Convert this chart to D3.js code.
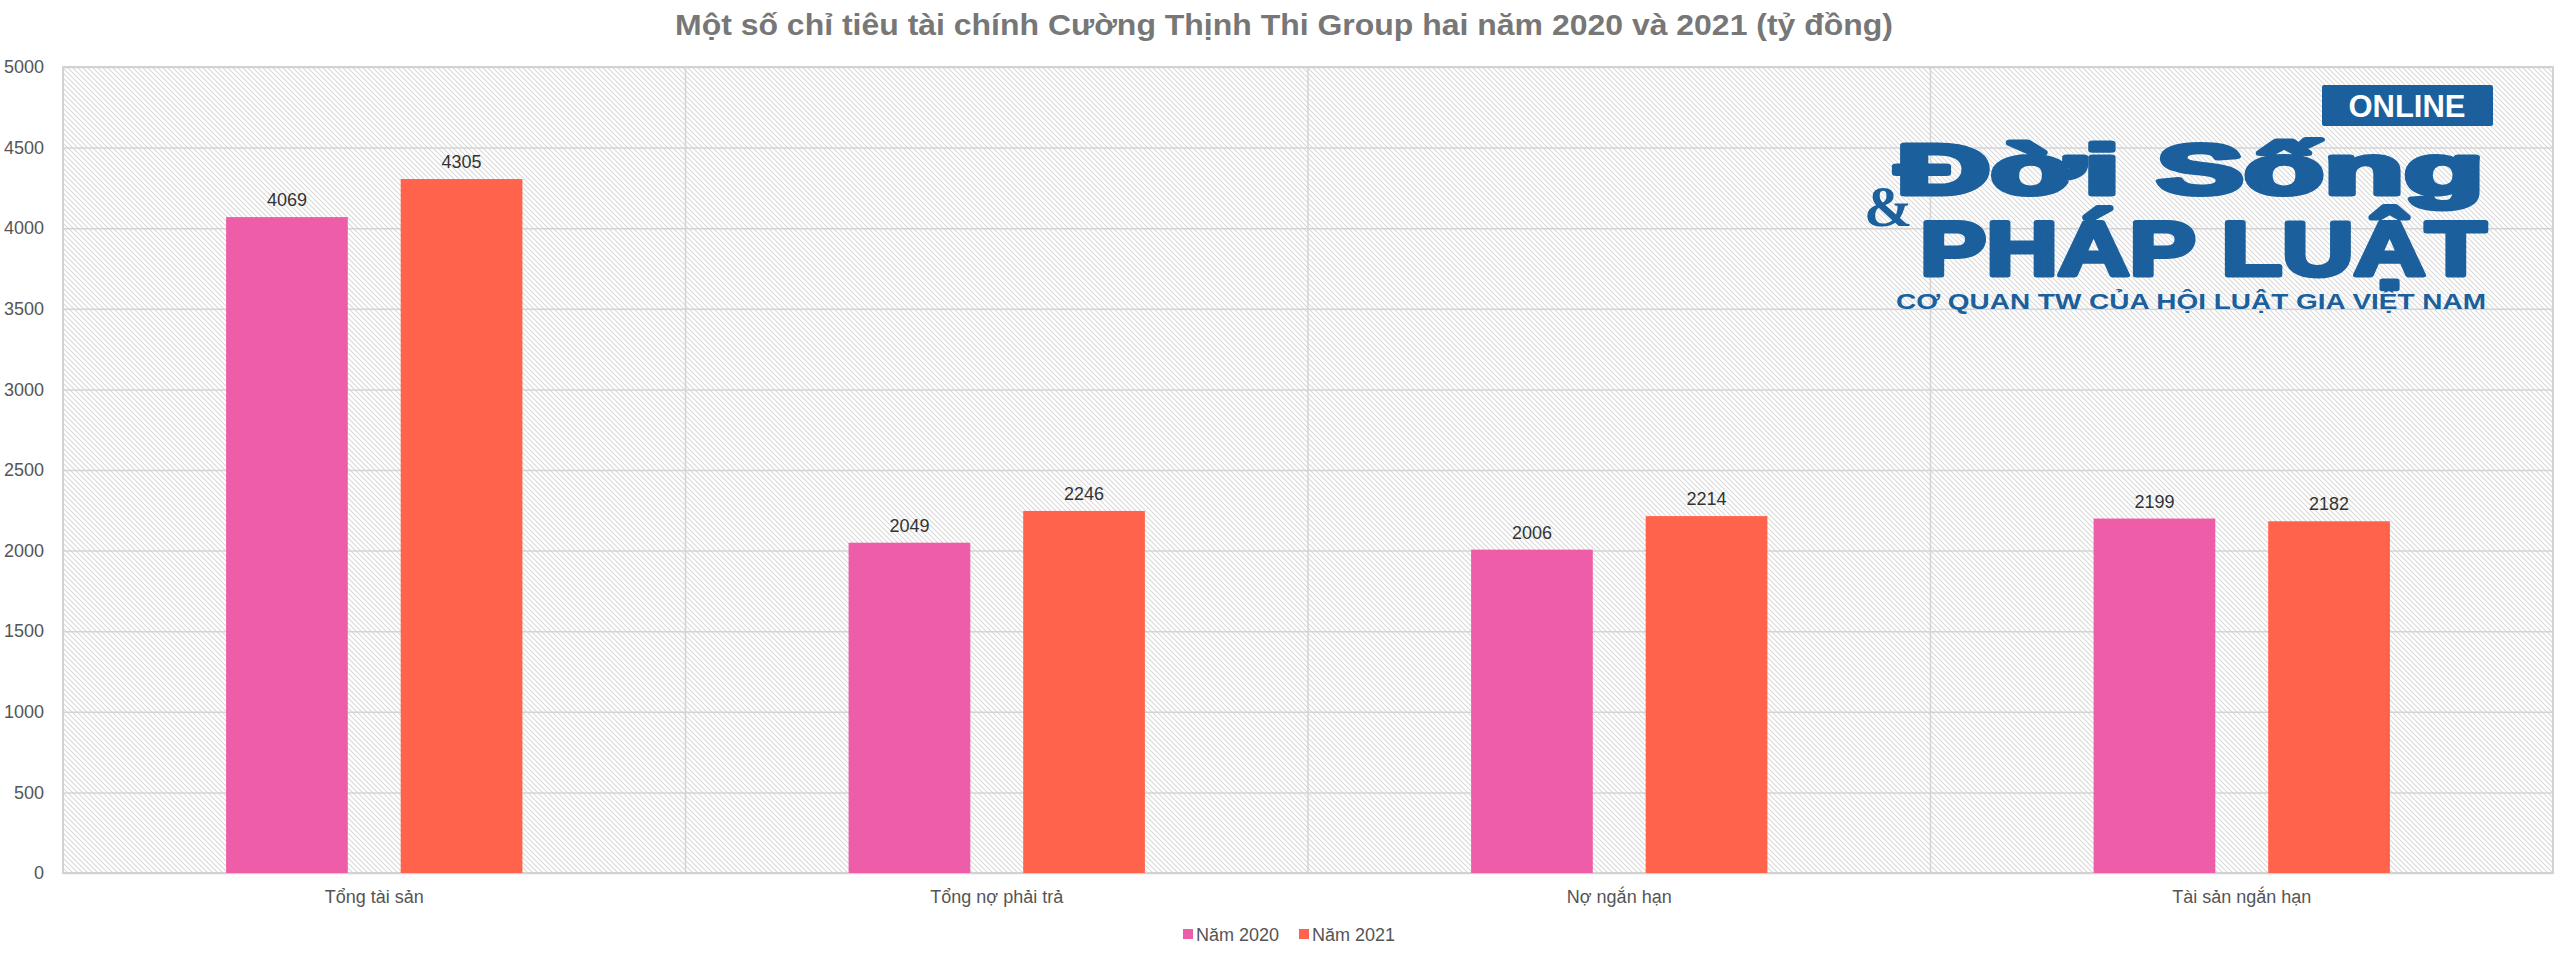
<!doctype html>
<html lang="vi">
<head>
<meta charset="UTF-8">
<title>Cuong Thinh Thi</title>
<style>
  body { margin: 0; background: #fff; }
  #chart text { font-family: "Liberation Sans", Arial, sans-serif; }
</style>
</head>
<body>
<svg id="chart" width="2564" height="954"></svg>
<script src="https://cdn.jsdelivr.net/npm/d3@7"></script>
<script>
var categories = ['Tổng tài sản', 'Tổng nợ phải trả', 'Nợ ngắn hạn', 'Tài sản ngắn hạn']
var seriesNames = ['Năm 2020', 'Năm 2021']
var values2020 = [4069, 2049, 2006, 2199]
var values2021 = [4305, 2246, 2214, 2182]
var yTicks = [0, 500, 1000, 1500, 2000, 2500, 3000, 3500, 4000, 4500, 5000]
var colors = ['#ee5ea8', '#ff634b']

var svg = d3.select('#chart')
var plotL = 63, plotR = 2553, plotT = 67, plotB = 873

var x0 = d3.scaleBand().domain(categories).range([plotL, plotR])
var bw = x0.bandwidth()
var x1 = d3.scaleBand().domain(seriesNames)
    .range([bw * 0.262, bw * 0.738]).paddingInner(0.303)
var y = d3.scaleLinear().domain([0, 5000]).range([plotB, plotT])

// hatch background
var pat = svg.append('defs').append('pattern')
    .attr('id', 'hatch').attr('patternUnits', 'userSpaceOnUse')
    .attr('width', 5).attr('height', 5)
pat.append('path').attr('d', 'M-1,-1 L6,6 M-1,4 L1,6 M4,-1 L6,1')
    .attr('stroke', '#d9d9d9').attr('stroke-width', 1.1)
svg.append('rect').attr('x', plotL).attr('y', plotT)
    .attr('width', plotR - plotL).attr('height', plotB - plotT)
    .attr('fill', 'url(#hatch)')

// horizontal grid
svg.append('g').attr('transform', 'translate(' + plotL + ',0)')
    .call(d3.axisLeft(y).tickValues(yTicks).tickSize(-(plotR - plotL)).tickFormat(''))
    .call(function(g) {
        g.select('.domain').remove()
        g.selectAll('line').attr('stroke', '#d4d4d4').attr('stroke-width', 1.5)
    })

// vertical category dividers
svg.append('g').selectAll('line')
    .data(categories.slice(1))
    .join('line')
    .attr('x1', function(d) { return x0(d) }).attr('x2', function(d) { return x0(d) })
    .attr('y1', plotT).attr('y2', plotB)
    .attr('stroke', '#d4d4d4').attr('stroke-width', 1.5)

// frame
svg.append('rect').attr('x', plotL).attr('y', plotT)
    .attr('width', plotR - plotL).attr('height', plotB - plotT)
    .attr('fill', 'none').attr('stroke', '#d2d2d2').attr('stroke-width', 2)

// y labels
svg.append('g').attr('transform', 'translate(' + (plotL - 16) + ',0)')
    .call(d3.axisLeft(y).tickValues(yTicks).tickSize(0).tickFormat(d3.format('d')))
    .call(function(g) {
        g.select('.domain').remove()
        g.selectAll('text').attr('font-size', 18).attr('fill', '#555')
            .style('font-family', '"Liberation Sans", Arial, sans-serif')
    })

// logo watermark
var logo = svg.append('g').attr('fill', '#1b5f9c')
logo.append('rect').attr('x', 2322).attr('y', 85).attr('width', 171).attr('height', 41).attr('rx', 2)
logo.append('text').attr('x', 2407).attr('y', 117).attr('text-anchor', 'middle')
    .attr('fill', '#fff').attr('font-size', 31).attr('font-weight', 'bold')
    .text('ONLINE')
logo.append('text').attr('x', 1896).attr('y', 194)
    .attr('font-size', 70).attr('font-weight', 'bold')
    .attr('textLength', 588).attr('lengthAdjust', 'spacingAndGlyphs')
    .attr('stroke', '#1b5f9c').attr('stroke-width', 5).attr('stroke-linejoin', 'round')
    .style('font-family', '"Liberation Sans Narrow", "Liberation Sans", sans-serif')
    .text('Đời Sống')
logo.append('text').attr('x', 1864).attr('y', 226)
    .attr('font-size', 58).attr('font-weight', 'bold')
    .style('font-family', '"Liberation Serif", serif')
    .text('&')
logo.append('text').attr('x', 1920).attr('y', 275)
    .attr('font-size', 76).attr('font-weight', 'bold')
    .attr('textLength', 566).attr('lengthAdjust', 'spacingAndGlyphs')
    .attr('stroke', '#1b5f9c').attr('stroke-width', 5).attr('stroke-linejoin', 'round')
    .style('font-family', '"Liberation Sans Narrow", "Liberation Sans", sans-serif')
    .text('PHÁP LUẬT')
logo.append('text').attr('x', 1896).attr('y', 309)
    .attr('font-size', 22).attr('font-weight', 'bold')
    .attr('textLength', 590).attr('lengthAdjust', 'spacingAndGlyphs')
    .text('CƠ QUAN TW CỦA HỘI LUẬT GIA VIỆT NAM')

// bars
var rows = categories.map(function(c, i) {
    return { cat: c, vals: [values2020[i], values2021[i]] }
})
var groups = svg.append('g').selectAll('g')
    .data(rows).join('g')
    .attr('transform', function(d) { return 'translate(' + x0(d.cat) + ',0)' })
groups.selectAll('rect')
    .data(function(d) { return d.vals.map(function(v, j) { return { s: seriesNames[j], v: v, j: j } }) })
    .join('rect')
    .attr('x', function(d) { return x1(d.s) })
    .attr('y', function(d) { return y(d.v) })
    .attr('width', x1.bandwidth())
    .attr('height', function(d) { return y(0) - y(d.v) })
    .attr('fill', function(d) { return colors[d.j] })
groups.selectAll('text')
    .data(function(d) { return d.vals.map(function(v, j) { return { s: seriesNames[j], v: v } }) })
    .join('text')
    .attr('x', function(d) { return x1(d.s) + x1.bandwidth() / 2 })
    .attr('y', function(d) { return y(d.v) - 11 })
    .attr('text-anchor', 'middle').attr('font-size', 18).attr('fill', '#333')
    .text(function(d) { return d.v })

// x labels
svg.append('g').selectAll('text')
    .data(categories).join('text')
    .attr('x', function(d) { return x0(d) + bw / 2 })
    .attr('y', 903)
    .attr('text-anchor', 'middle').attr('font-size', 18).attr('fill', '#555')
    .text(function(d) { return d })

// title
svg.append('text').attr('x', 1284).attr('y', 35)
    .attr('text-anchor', 'middle').attr('font-size', 30).attr('font-weight', 'bold')
    .attr('fill', '#777')
    .attr('textLength', 1218).attr('lengthAdjust', 'spacingAndGlyphs')
    .style('font-family', '"Liberation Sans Narrow", "Liberation Sans", Arial, sans-serif')
    .text('Một số chỉ tiêu tài chính Cường Thịnh Thi Group hai năm 2020 và 2021 (tỷ đồng)')

// legend
var legX = [1183, 1299]
var leg = svg.append('g').selectAll('g')
    .data(seriesNames).join('g')
    .attr('transform', function(d, i) { return 'translate(' + legX[i] + ',929)' })
leg.append('rect').attr('width', 10).attr('height', 10)
    .attr('fill', function(d, i) { return colors[i] })
leg.append('text').attr('x', 13).attr('y', 11.5).attr('font-size', 18).attr('fill', '#555')
    .text(function(d) { return d })
</script>
</body>
</html>
